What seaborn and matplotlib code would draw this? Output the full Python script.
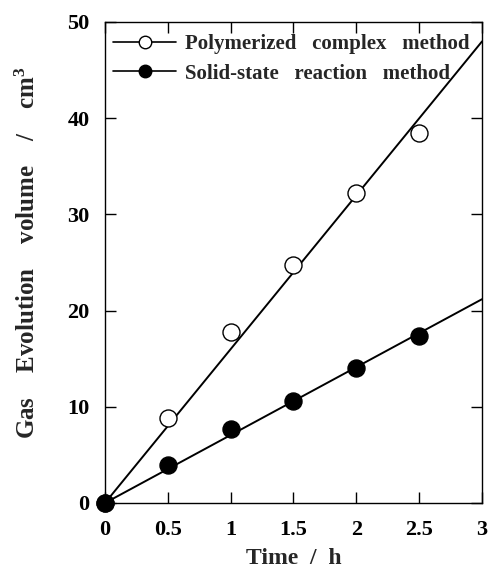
import numpy as np
import pandas as pd
import seaborn as sns
import matplotlib
matplotlib.use("Agg")
import matplotlib.pyplot as plt
from matplotlib.lines import Line2D

time_h = [0, 0.5, 1.0, 1.5, 2.0, 2.5]
polymerized = [0, 8.8, 17.8, 24.7, 32.2, 38.5]
solid_state = [0, 4.0, 7.7, 10.6, 14.0, 17.4]
series_names = ["Polymerized   complex   method", "Solid-state   reaction   method"]
x_ticks = [0, 0.5, 1, 1.5, 2, 2.5, 3]
x_tick_labels = ["0", "0.5", "1", "1.5", "2", "2.5", "3"]
y_ticks = [0, 10, 20, 30, 40, 50]

sns.set_theme(style="ticks")
plt.rcParams["font.family"] = ["Liberation Serif", "DejaVu Serif"]
plt.rcParams["font.weight"] = "bold"
plt.rcParams["mathtext.fontset"] = "custom"
plt.rcParams["mathtext.rm"] = "Liberation Serif:bold"
plt.rcParams["mathtext.default"] = "rm"

fig = plt.figure(figsize=(4.91, 5.71), dpi=100)
ax = fig.add_axes([0.2138, 0.1191, 0.7679, 0.8424])

df = pd.DataFrame({
    "t": time_h * 2,
    "v": polymerized + solid_state,
    "s": [series_names[0]] * len(time_h) + [series_names[1]] * len(time_h),
})

# fitted lines through origin
x_line = np.array([0, 3.0])
fits = []
for name, ys in zip(series_names, [polymerized, solid_state]):
    x = np.array(time_h); y = np.array(ys)
    k = (x * y).sum() / (x * x).sum()
    fits.append(pd.DataFrame({"t": x_line, "v": k * x_line, "s": name}))
fit_df = pd.concat(fits)

sns.lineplot(data=fit_df, x="t", y="v", units="s", estimator=None,
             color="black", lw=1.4, ax=ax, legend=False)
sns.scatterplot(data=df[df.s == series_names[0]], x="t", y="v", marker="o",
                s=150, facecolor="white", edgecolor="black", linewidth=1.0,
                ax=ax, legend=False, zorder=3, clip_on=False)
sns.scatterplot(data=df[df.s == series_names[1]], x="t", y="v", marker="o",
                s=150, color="black", edgecolor="black", linewidth=1.0,
                ax=ax, legend=False, zorder=3, clip_on=False)

ax.set_xlim(0, 3)
ax.set_ylim(0, 50)
ax.set_xticks(x_ticks)
ax.set_xticklabels(x_tick_labels)
ax.set_yticks(y_ticks)
ax.tick_params(direction="in", top=True, right=True, length=8, width=1,
               labelsize=16, colors="black")
ax.tick_params(axis="x", pad=12)
ax.tick_params(axis="y", pad=11)
for lab in ax.get_xticklabels() + ax.get_yticklabels():
    lab.set_fontweight("bold")
for sp in ax.spines.values():
    sp.set_visible(True)
    sp.set_color("black")
    sp.set_linewidth(1.0)

ax.set_xlabel("Time  /  h", fontsize=17, fontweight="bold", labelpad=6)
ax.set_ylabel("Gas    Evolution    volume    /    cm$^3$", fontsize=18,
              fontweight="bold")
ax.yaxis.set_label_coords(-0.172, 0.52)

handles = [
    Line2D([], [], color="black", lw=1.2, marker="o", markersize=9,
           markerfacecolor="white", markeredgecolor="black"),
    Line2D([], [], color="black", lw=1.2, marker="o", markersize=9,
           markerfacecolor="black", markeredgecolor="black"),
]
ax.legend(handles, series_names, loc="upper left", frameon=False,
          prop={"family": "Liberation Serif", "weight": "bold", "size": 15},
          handlelength=3.0, handletextpad=0.45, labelspacing=0.45,
          borderaxespad=0.0, bbox_to_anchor=(0.0, 0.992))

fig.savefig("out.png", dpi=100)
